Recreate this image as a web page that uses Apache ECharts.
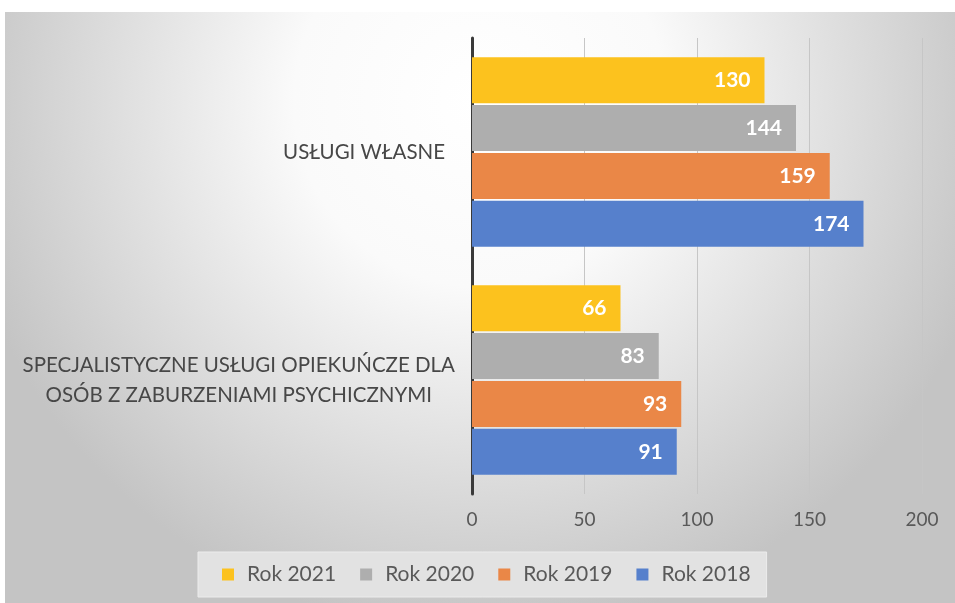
<!DOCTYPE html>
<html lang="pl">
<head>
    <meta charset="UTF-8">
    <title>Usługi</title>
    <script src="https://cdn.jsdelivr.net/npm/echarts@6/dist/echarts.min.js"></script>
    <style>
        html, body { margin: 0; padding: 0; background: #fff; }
        #chart { width: 955px; height: 603px; }
    </style>
</head>
<body>
<div id="chart"></div>
<script>
    // dane
    var categories = ['USŁUGI WŁASNE', 'SPECJALISTYCZNE USŁUGI OPIEKUŃCZE DLA\nOSÓB Z ZABURZENIAMI PSYCHICZNYMI'];
    var seriesNames = ['Rok 2021', 'Rok 2020', 'Rok 2019', 'Rok 2018'];
    var rok2021 = [130, 66];
    var rok2020 = [144, 83];
    var rok2019 = [159, 93];
    var rok2018 = [174, 91];
    var xTicks = [0, 50, 100, 150, 200];

    var colors = ['#FCC21E', '#AEAEAE', '#EA8747', '#5680CC'];
    var font = 'Lato, "Open Sans", sans-serif';

    var chart = echarts.init(document.getElementById('chart'));

    function makeSeries(name, data) {
        return {
            name: name,
            type: 'bar',
            data: data,
            barWidth: 46,
            barGap: '4%',
            label: {
                show: true,
                position: 'insideRight',
                distance: 14,
                color: '#fff',
                fontWeight: 'bold',
                fontSize: 21,
                fontFamily: font
            }
        };
    }

    var option = {
        color: colors,
        animation: false,
        graphic: [{
            type: 'rect',
            z: -10,
            silent: true,
            shape: { x: 5, y: 12, width: 950, height: 591 },
            style: {
                fill: {
                    type: 'radial', x: 0.5, y: 0.15, r: 0.9,
                    colorStops: [
                        { offset: 0, color: '#ffffff' },
                        { offset: 0.35, color: '#fafafa' },
                        { offset: 1, color: '#c4c4c4' }
                    ]
                }
            }
        }],
        grid: {
            left: 472,
            right: 33,
            top: 38,
            bottom: 109
        },
        legend: {
            data: seriesNames,
            bottom: 6,
            left: 198,
            icon: 'rect',
            itemWidth: 12,
            itemHeight: 12,
            itemGap: 24,
            padding: [12, 16, 12, 24],
            backgroundColor: '#e2e2e2',
            borderColor: '#ececec',
            borderWidth: 1,
            textStyle: {
                color: '#595959',
                fontSize: 21,
                fontFamily: font,
                padding: [0, 0, 0, 8]
            }
        },
        xAxis: {
            type: 'value',
            min: xTicks[0],
            max: xTicks[xTicks.length - 1],
            interval: 50,
            axisLine: { show: false },
            axisTick: { show: false },
            axisLabel: {
                color: '#595959',
                fontSize: 19,
                fontFamily: font,
                margin: 16
            },
            splitLine: {
                lineStyle: { color: '#c6c6c6', width: 1 }
            }
        },
        yAxis: {
            type: 'category',
            data: categories,
            inverse: true,
            axisTick: { show: false },
            axisLine: {
                lineStyle: { color: '#3a3a3a', width: 3 }
            },
            axisLabel: {
                margin: 17,
                formatter: function (v) {
                    var lines = v.split('\n');
                    var key = lines.length > 1 ? 'c' : 's';
                    return lines.map(function (l) { return '{' + key + '|' + l + '}'; }).join('\n');
                },
                rich: {
                    c: {
                        align: 'center',
                        color: '#474747',
                        fontSize: 20.5,
                        lineHeight: 30,
                        fontFamily: font
                    },
                    s: {
                        color: '#474747',
                        fontSize: 20.5,
                        lineHeight: 30,
                        fontFamily: font,
                        padding: [0, 10, 0, 0]
                    }
                }
            }
        },
        series: [
            makeSeries(seriesNames[0], rok2021),
            makeSeries(seriesNames[1], rok2020),
            makeSeries(seriesNames[2], rok2019),
            makeSeries(seriesNames[3], rok2018)
        ]
    };

    chart.setOption(option);
</script>
</body>
</html>
